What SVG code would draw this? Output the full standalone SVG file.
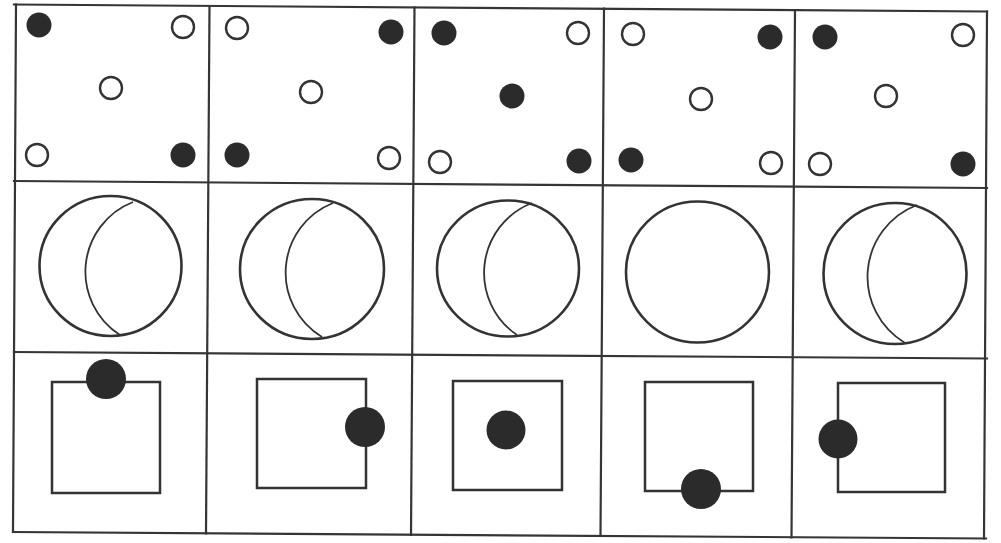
<svg xmlns="http://www.w3.org/2000/svg" width="1001" height="543" viewBox="0 0 1001 543">
  <style>
    .grid { stroke: #353535; stroke-width: 2.2; fill: none; stroke-linecap: square; }
    .open { fill: #ffffff; stroke: #333333; stroke-width: 2.4; }
    .dot { fill: #2b2b2b; stroke: none; }
    .big { fill: none; stroke: #333333; stroke-width: 2.6; }
    .arc { fill: none; stroke: #333333; stroke-width: 1.8; }
    .sq { fill: none; stroke: #333333; stroke-width: 2.5; }
  </style>
  <rect x="0" y="0" width="1001" height="543" fill="#ffffff"/>

  <g id="connectors" class="grid">
    <line x1="14" y1="4.5" x2="987" y2="11.5"/>
    <line x1="14" y1="181" x2="987" y2="188"/>
    <line x1="14" y1="352" x2="987" y2="358.5"/>
    <line x1="13" y1="532" x2="986" y2="538.5"/>
    <line x1="16" y1="4.5" x2="13" y2="532"/>
    <line x1="209.5" y1="6" x2="206" y2="533.5"/>
    <line x1="414.5" y1="7.5" x2="411" y2="535"/>
    <line x1="604" y1="8.5" x2="600.5" y2="536"/>
    <line x1="795" y1="10" x2="791.5" y2="537.5"/>
    <line x1="987" y1="11.5" x2="984" y2="538.5"/>
  </g>

  <g id="r1c1">
    <circle class="dot" cx="39" cy="25" r="12.5"/>
    <circle class="open" cx="183" cy="27" r="11"/>
    <circle class="open" cx="111" cy="88" r="11"/>
    <circle class="open" cx="37" cy="155" r="11"/>
    <circle class="dot" cx="183" cy="155" r="12.5"/>
  </g>
  <g id="r1c2">
    <circle class="open" cx="237" cy="28" r="11"/>
    <circle class="dot" cx="391" cy="32" r="12.5"/>
    <circle class="open" cx="311" cy="92" r="11"/>
    <circle class="dot" cx="237" cy="155" r="12.5"/>
    <circle class="open" cx="389" cy="158" r="11"/>
  </g>
  <g id="r1c3">
    <circle class="dot" cx="444" cy="33" r="12.5"/>
    <circle class="open" cx="578" cy="33" r="11"/>
    <circle class="dot" cx="512" cy="96" r="12.5"/>
    <circle class="open" cx="440" cy="162" r="11"/>
    <circle class="dot" cx="579" cy="161" r="12.5"/>
  </g>
  <g id="r1c4">
    <circle class="open" cx="633" cy="34" r="11"/>
    <circle class="dot" cx="770" cy="37" r="12.5"/>
    <circle class="open" cx="701" cy="99" r="11"/>
    <circle class="dot" cx="631" cy="160" r="12.5"/>
    <circle class="open" cx="771" cy="163" r="11"/>
  </g>
  <g id="r1c5">
    <circle class="dot" cx="825" cy="37" r="12.5"/>
    <circle class="open" cx="963" cy="35" r="11"/>
    <circle class="open" cx="886" cy="96" r="11"/>
    <circle class="open" cx="820" cy="164" r="11"/>
    <circle class="dot" cx="963" cy="164" r="12.5"/>
  </g>

  <g id="r2c1">
    <ellipse class="big" cx="110.5" cy="266" rx="71" ry="70"/>
    <path class="arc" d="M133,202 A75,75 0 0,0 120,335"/>
  </g>
  <g id="r2c2">
    <ellipse class="big" cx="312" cy="269" rx="72" ry="70"/>
    <path class="arc" d="M333,203 A75,75 0 0,0 322,337"/>
  </g>
  <g id="r2c3">
    <ellipse class="big" cx="508" cy="268.5" rx="71" ry="68"/>
    <path class="arc" d="M532,203 A75,75 0 0,0 517,335"/>
  </g>
  <g id="r2c4">
    <ellipse class="big" cx="697.5" cy="272" rx="71.5" ry="70.5"/>
  </g>
  <g id="r2c5">
    <ellipse class="big" cx="895" cy="273.5" rx="71.5" ry="70.5"/>
    <path class="arc" d="M917,205 A77,77 0 0,0 905,343"/>
  </g>

  <g id="r3c1">
    <rect class="sq" x="52" y="382" width="108" height="111"/>
    <circle class="dot" cx="106" cy="379" r="20"/>
  </g>
  <g id="r3c2">
    <rect class="sq" x="257" y="379" width="109" height="109"/>
    <circle class="dot" cx="365" cy="427" r="20"/>
  </g>
  <g id="r3c3">
    <rect class="sq" x="453" y="381" width="109" height="109"/>
    <circle class="dot" cx="506" cy="430" r="19.5"/>
  </g>
  <g id="r3c4">
    <rect class="sq" x="645" y="382" width="108" height="109"/>
    <circle class="dot" cx="701" cy="489" r="20"/>
  </g>
  <g id="r3c5">
    <rect class="sq" x="838" y="383" width="107" height="109"/>
    <circle class="dot" cx="838" cy="439" r="19.5"/>
  </g>
</svg>
